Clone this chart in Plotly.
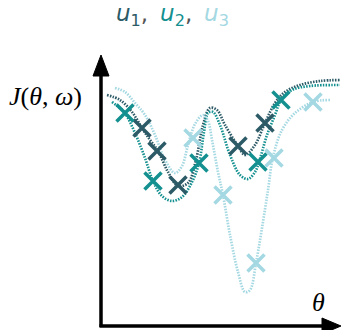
import plotly.graph_objects as go

H = 330  # picture height used to express J upward

# curve samples (theta, J)
u1_theta = [107, 120, 132, 142, 150, 158, 168, 178, 188, 196, 203, 210, 217, 225, 238, 245, 255, 265, 275, 285, 300, 320, 340]
u1_J = [H - v for v in [95, 100, 112, 128, 140, 151, 172, 186, 183, 160, 125, 108, 110, 125, 146, 155, 145, 123, 103, 92, 85, 81, 80]]

u2_theta = [112, 120, 125, 135, 145, 153, 162, 172, 182, 192, 199, 204, 208, 213, 220, 230, 240, 248, 255, 259, 267, 275, 281, 292, 310, 340]
u2_J = [H - v for v in [102, 108, 113, 133, 158, 181, 196, 201, 197, 182, 163, 132, 113, 112, 125, 155, 175, 179, 172, 162, 135, 115, 100, 90, 86, 85]]

u3_theta = [115, 125, 135, 145, 155, 165, 175, 182, 188, 195, 203, 208, 212, 218, 223, 230, 238, 245, 250, 256, 262, 268, 273, 282, 295, 313, 330]
u3_J = [H - v for v in [88, 92, 103, 115, 135, 160, 173, 166, 145, 124, 115, 121, 140, 172, 195, 235, 272, 292, 290, 263, 228, 190, 157, 130, 113, 102, 100]]

# marker samples
u1_mx = [142, 157, 178, 238, 265]
u1_my = [H - v for v in [128, 151, 185, 146, 123]]
u2_mx = [125, 153, 199, 258, 281]
u2_my = [H - v for v in [113, 181, 163, 162, 100]]
u3_mx = [193, 223, 256, 274, 313]
u3_my = [H - v for v in [138, 195, 263, 158, 102]]

names = ["u1", "u2", "u3"]
colors = ["#2c5a66", "#13908f", "#a4d8e2"]

fig = go.Figure()
curves = [(u1_theta, u1_J), (u2_theta, u2_J), (u3_theta, u3_J)]
marks = [(u1_mx, u1_my), (u2_mx, u2_my), (u3_mx, u3_my)]
for (cx, cy), c in zip(curves, colors):
    fig.add_trace(go.Scatter(x=cx, y=cy, mode="lines", line=dict(color=c, width=2.7, dash="1.5px,1.3px", shape="spline", smoothing=1.0),
                             hoverinfo="skip", showlegend=False))
for (mx, my), c in zip(marks, colors):
    fig.add_trace(go.Scatter(x=mx, y=my, mode="markers",
                             marker=dict(symbol="x-thin", size=17, line=dict(color=c, width=3.5)),
                             hoverinfo="skip", showlegend=False))

# axes with arrows
fig.add_shape(type="line", x0=101, y0=H - 327, x1=101, y1=H - 70, line=dict(color="black", width=3.5))
fig.add_shape(type="line", x0=99.5, y0=H - 326, x1=328, y1=H - 326, line=dict(color="black", width=3.5))
fig.add_shape(type="path", path=f"M 101 {H-55} L 93 {H-76} L 109 {H-76} Z", fillcolor="black", line=dict(color="black", width=1))
fig.add_shape(type="path", path=f"M 341 {H-326} L 322 {H-318} L 322 {H-334} Z", fillcolor="black", line=dict(color="black", width=1))

fig.add_annotation(x=45, y=H - 96, text="<i>J</i>(<i>θ</i>, <i>ω</i>)", showarrow=False,
                   font=dict(family="Liberation Serif", size=26, color="black"))
fig.add_annotation(x=318, y=H - 302, text="<i>θ</i>", showarrow=False,
                   font=dict(family="Liberation Serif", size=26, color="black"))

sep = "<span style='color:#555'>,\u2009 </span>"
leg = (f"<span style='color:{colors[0]}'><i>u</i><sub>1</sub></span>{sep}"
       f"<span style='color:{colors[1]}'><i>u</i><sub>2</sub></span>{sep}"
       f"<span style='color:{colors[2]}'><i>u</i><sub>3</sub></span>")
fig.add_annotation(x=172, y=H - 15, text=leg, showarrow=False,
                   font=dict(family="DejaVu Sans", size=23))

fig.update_layout(width=341, height=330, margin=dict(l=0, r=0, t=0, b=0),
                  paper_bgcolor="white", plot_bgcolor="white",
                  xaxis=dict(range=[0, 341], visible=False, fixedrange=True),
                  yaxis=dict(range=[0, 330], visible=False, fixedrange=True))
fig.write_html("out.html", config={"displayModeBar": False},
               post_script="document.body.style.margin='0';document.body.style.overflow='hidden';")
